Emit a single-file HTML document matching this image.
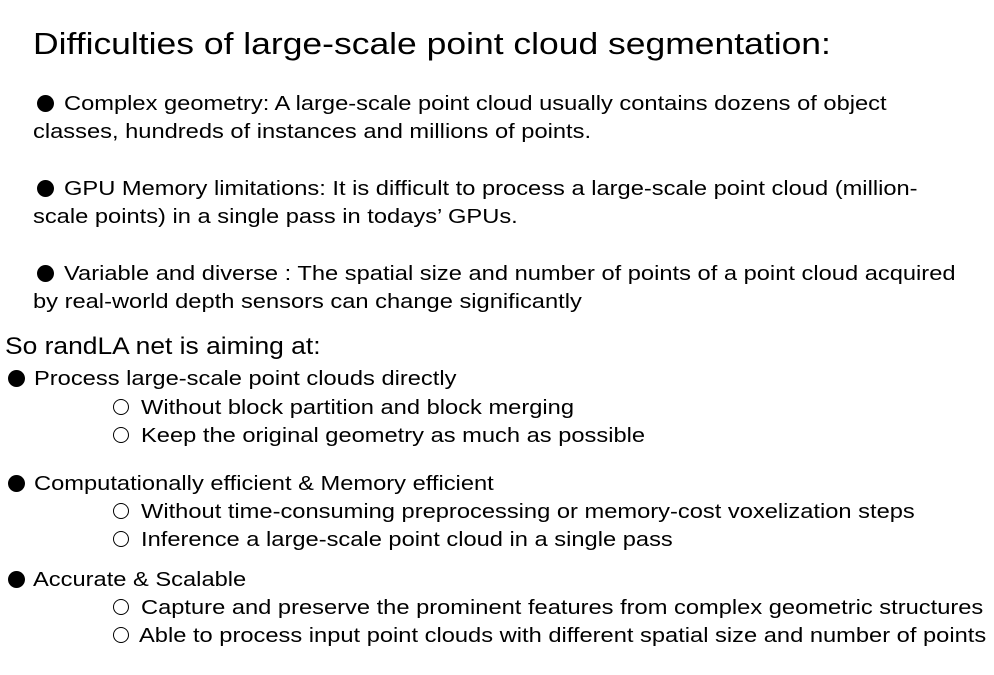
<!DOCTYPE html>
<html><head><meta charset="utf-8"><style>
html,body{margin:0;padding:0;background:#fff;}
body{width:994px;height:675px;position:relative;overflow:hidden;font-family:"Liberation Sans",Arial,sans-serif;color:#000;}
.t{position:absolute;white-space:nowrap;line-height:1;transform-origin:0 0;}
.b{font-size:20.5px;transform:scaleX(1.155);}
.d{position:absolute;width:17px;height:17px;border-radius:50%;background:#000;}
.o{position:absolute;width:14px;height:14px;border-radius:50%;border:1.5px solid #000;box-sizing:content-box;}
</style></head><body>
<div class="t" style="left:33px;top:29px;font-size:30.5px;transform:scaleX(1.163);">Difficulties of large-scale point cloud segmentation:</div>
<div class="d" style="left:37px;top:95px;"></div>
<div class="t b" style="left:64px;top:94px;">Complex geometry: A large-scale point cloud usually contains dozens of object</div>
<div class="t b" style="left:33px;top:122px;">classes, hundreds of instances and millions of points.</div>
<div class="d" style="left:37px;top:180px;"></div>
<div class="t b" style="left:64px;top:179px;">GPU Memory limitations: It is difficult to process a large-scale point cloud (million-</div>
<div class="t b" style="left:33px;top:207px;">scale points) in a single pass in todays’ GPUs.</div>
<div class="d" style="left:37px;top:265px;"></div>
<div class="t b" style="left:64px;top:264px;">Variable and diverse : The spatial size and number of points of a point cloud acquired</div>
<div class="t b" style="left:33px;top:292px;">by real-world depth sensors can change significantly</div>
<div class="t" style="left:5px;top:335px;font-size:24px;transform:scaleX(1.10);">So randLA net is aiming at:</div>
<div class="d" style="left:8px;top:370px;"></div>
<div class="t b" style="left:34px;top:369px;">Process large-scale point clouds directly</div>
<div class="o" style="left:113px;top:399px;"></div>
<div class="t b" style="left:141px;top:398px;">Without block partition and block merging</div>
<div class="o" style="left:113px;top:427px;"></div>
<div class="t b" style="left:141px;top:426px;">Keep the original geometry as much as possible</div>
<div class="d" style="left:8px;top:475px;"></div>
<div class="t b" style="left:34px;top:474px;">Computationally efficient &amp; Memory efficient</div>
<div class="o" style="left:113px;top:503px;"></div>
<div class="t b" style="left:141px;top:502px;">Without time-consuming preprocessing or memory-cost voxelization steps</div>
<div class="o" style="left:113px;top:531px;"></div>
<div class="t b" style="left:141px;top:530px;">Inference a large-scale point cloud in a single pass</div>
<div class="d" style="left:8px;top:571px;"></div>
<div class="t b" style="left:33px;top:570px;">Accurate &amp; Scalable</div>
<div class="o" style="left:113px;top:599px;"></div>
<div class="t b" style="left:141px;top:598px;">Capture and preserve the prominent features from complex geometric structures</div>
<div class="o" style="left:113px;top:627px;"></div>
<div class="t b" style="left:139px;top:626px;">Able to process input point clouds with different spatial size and number of points</div>
</body></html>
